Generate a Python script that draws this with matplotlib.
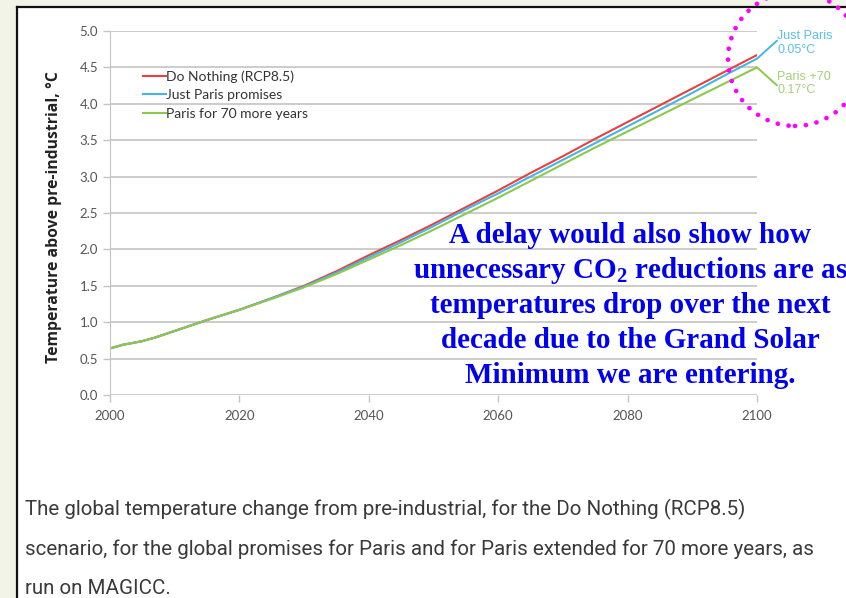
import matplotlib
matplotlib.use("Agg")
import matplotlib.pyplot as plt
from matplotlib.patches import Rectangle, Ellipse
from matplotlib.lines import Line2D

plt.rcParams["mathtext.fontset"] = "custom"
plt.rcParams["mathtext.bf"] = "Liberation Serif:bold"
plt.rcParams["mathtext.rm"] = "Liberation Serif:bold"
plt.rcParams["mathtext.default"] = "bf"

# data
years = [2000, 2002, 2005, 2007, 2010, 2015, 2020, 2025, 2030, 2035, 2040, 2045,
         2050, 2055, 2060, 2065, 2070, 2075, 2080, 2085, 2090, 2095, 2100]
do_nothing = [0.64, 0.69, 0.74, 0.79, 0.88, 1.03, 1.17, 1.33, 1.50, 1.70, 1.92, 2.13,
              2.35, 2.58, 2.81, 3.05, 3.28, 3.52, 3.75, 3.98, 4.21, 4.44, 4.67]
just_paris = [0.64, 0.69, 0.74, 0.79, 0.88, 1.03, 1.17, 1.33, 1.49, 1.68, 1.89, 2.10,
              2.32, 2.55, 2.77, 3.00, 3.23, 3.46, 3.69, 3.92, 4.15, 4.39, 4.62]
paris_70 = [0.64, 0.69, 0.74, 0.79, 0.88, 1.03, 1.17, 1.32, 1.48, 1.66, 1.86, 2.06,
            2.27, 2.49, 2.71, 2.94, 3.17, 3.40, 3.62, 3.84, 4.06, 4.28, 4.50]
labels = ["Do Nothing (RCP8.5)", "Just Paris promises", "Paris for 70 more years"]
colors = ["#e8403f", "#45b5e6", "#8cc84b"]
y_ticks = [0.0, 0.5, 1.0, 1.5, 2.0, 2.5, 3.0, 3.5, 4.0, 4.5, 5.0]
x_ticks = [2000, 2020, 2040, 2060, 2080, 2100]

W, H = 846, 598
fig = plt.figure(figsize=(W / 100, H / 100), dpi=100, facecolor="#f1f4e6")

# white panel with black left/top border
fig.add_artist(Rectangle((17 / W, 0), 1, 1 - 7 / H, transform=fig.transFigure,
                         facecolor="white", edgecolor="none", zorder=-10))
fig.add_artist(Line2D([17 / W, 17 / W], [0, 1 - 7 / H], transform=fig.transFigure,
                      color="#111111", lw=1.6, zorder=-9))
fig.add_artist(Line2D([17 / W, 1], [1 - 7 / H, 1 - 7 / H], transform=fig.transFigure,
                      color="#111111", lw=1.6, zorder=-9))

ax = fig.add_axes([110 / W, 1 - 395 / H, (757 - 110) / W, (395 - 31) / H])
ax.set_facecolor("none")

for vals, lab, c in zip([do_nothing, just_paris, paris_70], labels, colors):
    ax.plot(years, vals, color=c, lw=1.5, label=lab)

ax.set_xlim(2000, 2100)
ax.set_ylim(0, 5)
ax.set_xticks(x_ticks)
ax.set_yticks(y_ticks)
ax.set_yticklabels([f"{t:.1f}" for t in y_ticks])
ax.grid(axis="y", color="#c4c4c4", lw=1.2)
ax.set_axisbelow(True)
for s in ["top", "right", "bottom"]:
    ax.spines[s].set_visible(False)
ax.spines["left"].set_color("#c4c4c4")
ax.tick_params(colors="#c4c4c4", labelcolor="#555555", labelsize=9.5, length=5, width=1)
ax.tick_params(axis="x", pad=6)
for lbl in ax.get_xticklabels() + ax.get_yticklabels():
    lbl.set_family("Lato")

ax.set_ylabel("Temperature above pre-industrial, °C", fontsize=11.3, fontweight="bold",
              color="#222222", family="Open Sans")
ax.yaxis.set_label_coords(-0.074, 0.49)

leg = ax.legend(loc="upper left", bbox_to_anchor=(0.043, 0.908), frameon=False,
                handlelength=1.6, handletextpad=0.05, labelspacing=0.48,
                borderaxespad=0, prop={"family": "Lato", "size": 10})
for t in leg.get_texts():
    t.set_color("#333333")

# end annotations: connector lines from the curve ends
ax.annotate("", xy=(2100, just_paris[-1]), xytext=(20, 18), textcoords="offset pixels",
            annotation_clip=False,
            arrowprops=dict(arrowstyle="-", color="#45b5e6", lw=1.4, shrinkA=0, shrinkB=0))
ax.annotate("", xy=(2100, paris_70[-1]), xytext=(20, -18), textcoords="offset pixels",
            annotation_clip=False,
            arrowprops=dict(arrowstyle="-", color="#8cc84b", lw=1.4, shrinkA=0, shrinkB=0))
for txt, yc, c in [("Just Paris", 36, "#5bbfea"), ("0.05°C", 50, "#5bbfea"),
                   ("Paris +70", 77, "#a6cf78"), ("0.17°C", 90, "#a6cf78")]:
    fig.text(777 / W, 1 - yc / H, txt, color=c, fontsize=9, family="Liberation Sans",
             ha="left", va="center")

# overlaid blue commentary
blue_lines = ["A delay would also show how",
              r"unnecessary CO$_2$ reductions are as",
              "temperatures drop over the next",
              "decade due to the Grand Solar",
              "Minimum we are entering."]
baselines = [243, 278, 313, 348, 383]
for line, yb in zip(blue_lines, baselines):
    fig.text(630 / W, 1 - yb / H, line, color="#0000f0", fontsize=21,
             fontweight="bold", family="Liberation Serif", ha="center", va="baseline")

# caption
caption = ["The global temperature change from pre-industrial, for the Do Nothing (RCP8.5)",
           "scenario, for the global promises for Paris and for Paris extended for 70 more years, as",
           "run on MAGICC."]
for i, line in enumerate(caption):
    fig.text(25 / W, 1 - (509 + 40 * i) / H, line, color="#3a3a3a", fontsize=14.8,
             family="Roboto", ha="left", va="center")

# magenta dotted circle
circ = Ellipse((795 / W, 1 - 59 / H), 2 * 67 / W, 2 * 67 / H, transform=fig.transFigure,
               fill=False, edgecolor="#ff00ff", lw=3.4, linestyle=(0, (0.01, 2.3)),
               zorder=5)
circ.set_capstyle("round")
fig.add_artist(circ)

fig.savefig("out.png", dpi=100, facecolor=fig.get_facecolor())
